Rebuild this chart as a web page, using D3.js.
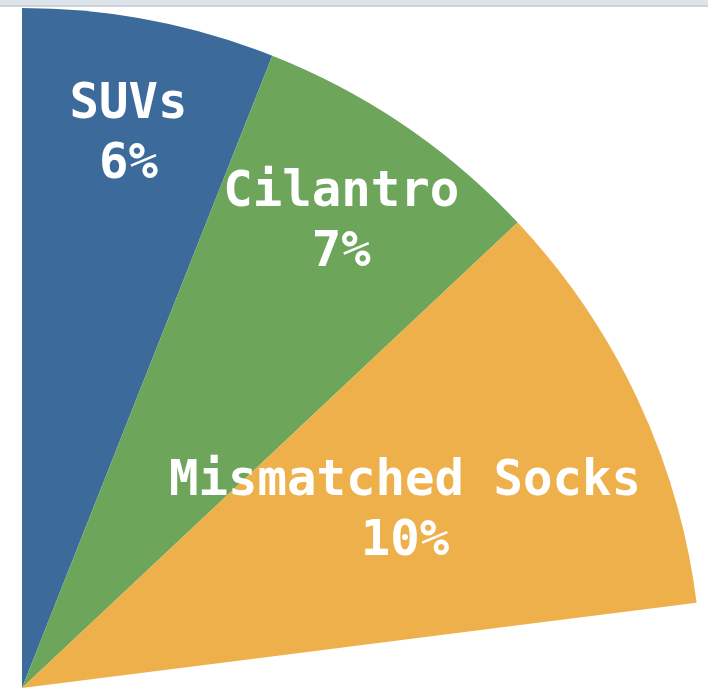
<!DOCTYPE html>
<html>
<head>
<meta charset="utf-8">
<script src="https://cdn.jsdelivr.net/npm/d3@7"></script>
<style>
  html, body { margin: 0; padding: 0; background: #fff; overflow: hidden; }
</style>
</head>
<body>
<div id="chart"></div>
<script>
// 708 x 688

var categories = ["SUVs", "Cilantro", "Mismatched Socks"];
var percents   = [6, 7, 10];
var colors     = ["#3c6b9b", "#6da55a", "#eeb04b"];

var width = 708, height = 688;
var cx = 22, cy = 688, radius = 680;

var svg = d3.select('#chart').append('svg')
    .attr('width', width)
    .attr('height', height);

// barra gris de arriba
svg.append('rect')
    .attr('x', 0).attr('y', 0)
    .attr('width', width).attr('height', 6)
    .attr('fill', '#dde4ec');
svg.append('rect')
    .attr('x', 0).attr('y', 5)
    .attr('width', width).attr('height', 2)
    .attr('fill', '#cfd3d8');

var data = categories.map((c, i) => ({ name: c, value: percents[i], color: colors[i] }));

var pie = d3.pie()
    .value(d => d.value)
    .sort(null)
    .startAngle(0)
    .endAngle(2 * Math.PI * d3.sum(percents) / 100);

var arc = d3.arc().innerRadius(0).outerRadius(radius);

var g = svg.append('g')
    .attr('transform', 'translate(' + cx + ',' + cy + ')');

var arcs = pie(data);

g.selectAll('.slice')
    .data(arcs)
    .enter()
    .append('path')
        .attr('class', 'slice')
        .attr('d', arc)
        .attr('fill', d => d.data.color);

var fontSize = 49, lineH = 60, pad = 67;
var labelR = radius * 0.835;

var label = g.selectAll('.label')
    .data(arcs)
    .enter()
    .append('text')
        .attr('class', 'label')
        .attr('text-anchor', 'middle')
        .attr('font-family', '"DejaVu Sans Mono", monospace')
        .attr('font-weight', 'bold')
        .attr('font-size', fontSize + 'px')
        .attr('fill', '#fff');

label.append('tspan')
    .attr('x', 0).attr('y', -lineH / 2 + fontSize * 0.36)
    .text(d => d.data.name);
label.append('tspan')
    .attr('x', 0).attr('y', lineH / 2 + fontSize * 0.36)
    .text(d => d.data.value + '%');

// mover hacia el centro si la etiqueta se sale por la derecha
label.attr('transform', function(d) {
    var a = (d.startAngle + d.endAngle) / 2;
    var w = this.getBBox().width;
    var r = labelR;
    var x = Math.sin(a) * r;
    if (cx + x + w / 2 > width - pad) {
        r = (width - pad - w / 2 - cx) / Math.sin(a);
    }
    return 'translate(' + (Math.sin(a) * r) + ',' + (-Math.cos(a) * r) + ')';
});
</script>
</body>
</html>
